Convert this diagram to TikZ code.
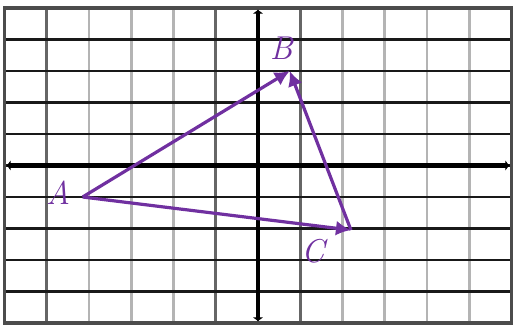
\documentclass[tikz,border=0pt]{standalone}
\usetikzlibrary{arrows.meta}
\definecolor{vecpurple}{HTML}{7030A0}
\definecolor{gridgray}{HTML}{B4B4B4}

\begin{document}
\begin{tikzpicture}[x=42.25pt,y=31.5pt,
  vec/.style={vecpurple,line width=3.2pt,-{Latex[length=15pt,width=15pt]}},
  lbl/.style={vecpurple,font=\fontsize{33}{35}\selectfont\itshape},
  axtip/.style={line width=4.5pt,{Latex[length=4pt,width=11pt]}-{Latex[length=4pt,width=11pt]}}]
  \useasboundingbox (-6.107,-5.222) rectangle (6.083,5.254);
  % grid
  \foreach \x in {-4,-3,-2,2,3,4,5} \draw[gridgray,line width=2.6pt] (\x,-5) -- (\x,5);
  \foreach \x in {-5,-1,1} \draw[black!60,line width=2.6pt] (\x,-5) -- (\x,5);
  \foreach \y in {-4,...,4} \draw[black!90,line width=2.2pt] (-6,\y) -- (6,\y);
  \draw[black!70,line width=3.2pt] (-6,-5) rectangle (6,5);
  % axes
  \coordinate (xl) at (-5.95,0);
  \coordinate (xr) at (5.95,0);
  \coordinate (yb) at (0,-4.95);
  \coordinate (yt) at (0,4.95);
  \draw[axtip] (xl) -- (xr);
  \draw[axtip] (yb) -- (yt);
  % triangle
  \coordinate (A) at (-4.15,-1);
  \coordinate (B) at (0.75,3);
  \coordinate (C) at (2.2,-2.05);
  \draw[vec] (A) -- (B);
  \draw[vec] (C) -- (B);
  \draw[vec] (A) -- (C);
  \node[lbl] (la) at (-4.73,-0.85) {A};
  \node[lbl] (lb) at (0.55,3.72) {B};
  \node[lbl] (lc) at (1.3,-2.72) {C};
\end{tikzpicture}
\end{document}
